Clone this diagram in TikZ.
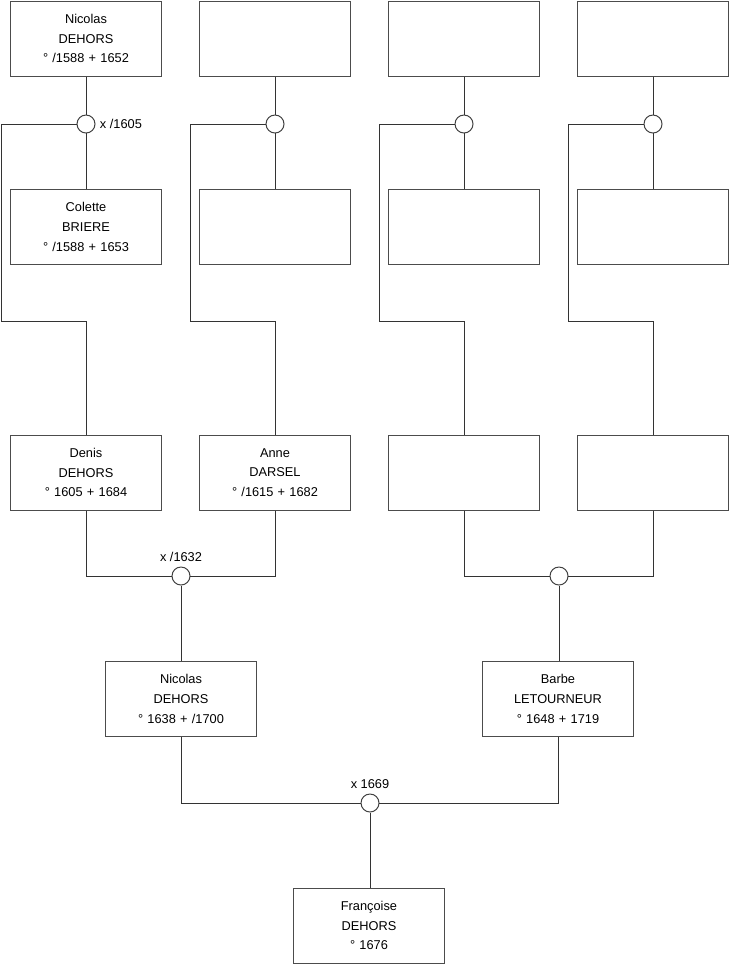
\documentclass[tikz,border=0pt]{standalone}
\usepackage{fontspec}
\setmainfont{Liberation Sans}
\usepackage{tikz}
\usetikzlibrary{positioning}

\begin{document}
\begin{tikzpicture}[
  x=0.025cm, y=-0.025cm,
  font=\fontsize{9.1}{14}\selectfont,
  pers/.style={draw=black!70, line width=0.7pt, align=center, inner sep=0pt,
               minimum width=3.75cm, minimum height=1.875cm, text width=3.7cm},
  wed/.style={circle, draw=black!75, fill=white, line width=0.7pt, inner sep=0pt,
              minimum size=0.45cm},
  lnk/.style={draw=black!80, line width=0.7pt},
  date/.style={inner sep=1pt}
]
\useasboundingbox (0,0) rectangle (740,975);

% ---- generation 1 ----
\node[pers] (g1) at (86,38.5)  {Nicolas\\DEHORS\\° /1588 + 1652};
\node[pers] (g2) at (275,38.5) {};
\node[pers] (g3) at (464,38.5) {};
\node[pers] (g4) at (653,38.5) {};

\node[pers] (s1) at (86,227)   {Colette\\BRIERE\\° /1588 + 1653};
\node[pers] (s2) at (275,227)  {};
\node[pers] (s3) at (464,227)  {};
\node[pers] (s4) at (653,227)  {};

% ---- generation 2 ----
\node[pers] (c1) at (86,472.5)  {Denis\\DEHORS\\° 1605 + 1684};
\node[pers] (c2) at (275,472.5) {Anne\\DARSEL\\° /1615 + 1682};
\node[pers] (c3) at (464,472.5) {};
\node[pers] (c4) at (653,472.5) {};

% ---- generation 1 marriages and rails ----
\foreach \i/\x in {1/86, 2/275, 3/464, 4/653}{
  \node[wed] (w\i) at (\x,124) {};
  \coordinate (r\i) at (\x-85,321);
  \draw[lnk] (g\i.south) -- (w\i.north);
  \draw[lnk] (w\i.south) -- (s\i.north);
  \draw[lnk] (w\i.west) -| (r\i) -| (c\i.north);
}
\node[date, anchor=west] at ([xshift=2pt]w1.east) {x /1605};

% ---- generation 2 marriages ----
\node[wed] (w5) at (181,576) {};
\node[wed] (w6) at (559,576) {};
\node[date, anchor=south] at ([yshift=2pt]w5.north) {x /1632};
\draw[lnk] (c1.south) |- (w5.west);
\draw[lnk] (c2.south) |- (w5.east);
\draw[lnk] (c3.south) |- (w6.west);
\draw[lnk] (c4.south) |- (w6.east);

% ---- generation 3 ----
\node[pers] (nic) at (181,699) {Nicolas\\DEHORS\\° 1638 + /1700};
\node[pers] (bar) at (558,699) {Barbe\\LETOURNEUR\\° 1648 + 1719};
\draw[lnk] (w5.south) -- (nic.north);
\draw[lnk] (w6.south) -- (w6.south |- bar.north);

% ---- last marriage and child ----
\node[wed] (w7) at (370,803) {};
\node[date, anchor=south] at ([yshift=2pt]w7.north) {x 1669};
\draw[lnk] (nic.south) |- (w7.west);
\draw[lnk] (bar.south) |- (w7.east);
\node[pers] (fra) at (369,925.5) {Françoise\\DEHORS\\° 1676};
\draw[lnk] (w7.south) -- (w7.south |- fra.north);
\end{tikzpicture}
\end{document}
